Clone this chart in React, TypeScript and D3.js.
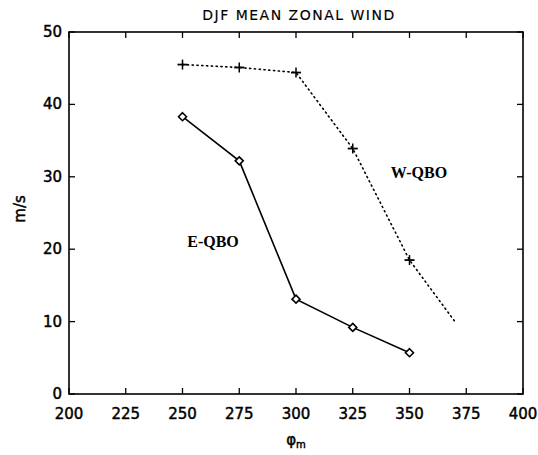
import React from "react";
import * as d3 from "d3";

const xTicks = [200, 225, 250, 275, 300, 325, 350, 375, 400];
const yTicks = [0, 10, 20, 30, 40, 50];

const eqboX = [250, 275, 300, 325, 350];
const eqboY = [38.3, 32.2, 13.1, 9.2, 5.7];

const wqboX = [250, 275, 300, 325, 350, 370];
const wqboY = [45.5, 45.1, 44.4, 33.9, 18.5, 10];
const wqboMarked = [true, true, true, true, true, false];

const W = 538, H = 455;
const L = 69, R = 523, T = 32, B = 394;

export default function App() {
  const x = d3.scaleLinear().domain([200, 400]).range([L, R]);
  const y = d3.scaleLinear().domain([0, 50]).range([B, T]);
  const line = d3.line<[number, number]>().x(d => x(d[0])).y(d => y(d[1]));
  const ePts: [number, number][] = eqboX.map((v, i) => [v, eqboY[i]]);
  const wPts: [number, number][] = wqboX.map((v, i) => [v, wqboY[i]]);
  const tl = 6;
  const font = "'DejaVu Sans', sans-serif";
  const heavy = { stroke: "#000", strokeWidth: 0.45 } as const;
  return (
    <svg width={W} height={H} style={{ position: "absolute", left: 0, top: 0, background: "#fff" }}>
      <text x={299} y={20} textAnchor="middle" fontFamily={font} fontSize={14} letterSpacing={1.5} fill="#000" stroke="#000" strokeWidth={0.15}>DJF MEAN ZONAL WIND</text>
      <rect x={L} y={T} width={R - L} height={B - T} fill="none" stroke="#000" strokeWidth={1.6} />
      {xTicks.map(t => (
        <g key={"x" + t}>
          <line x1={x(t)} x2={x(t)} y1={B} y2={B - tl} stroke="#000" strokeWidth={1.3} />
          <line x1={x(t)} x2={x(t)} y1={T} y2={T + tl} stroke="#000" strokeWidth={1.3} />
          <text x={x(t)} y={419} textAnchor="middle" fontFamily={font} fontSize={15} fill="#000" {...heavy}>{t}</text>
        </g>
      ))}
      {yTicks.map(t => (
        <g key={"y" + t}>
          <line x1={L} x2={L + tl} y1={y(t)} y2={y(t)} stroke="#000" strokeWidth={1.3} />
          <line x1={R} x2={R - tl} y1={y(t)} y2={y(t)} stroke="#000" strokeWidth={1.3} />
          <text x={62} y={y(t) + 5} textAnchor="end" fontFamily={font} fontSize={15} fill="#000" {...heavy}>{t}</text>
        </g>
      ))}
      <text transform={`translate(25,${(T + B) / 2 - 4}) rotate(-90)`} textAnchor="middle" fontFamily={font} fontSize={15} fill="#000" {...heavy}>m/s</text>
      <text x={296} y={445} textAnchor="middle" fontFamily={font} fontSize={15} fill="#000" {...heavy}>φ<tspan fontSize={10} dy={3}>m</tspan></text>

      <path d={line(ePts) || ""} fill="none" stroke="#000" strokeWidth={1.6} />
      {ePts.map((p, i) => (
        <path key={"e" + i} d={`M${x(p[0])},${y(p[1]) - 4}L${x(p[0]) + 4},${y(p[1])}L${x(p[0])},${y(p[1]) + 4}L${x(p[0]) - 4},${y(p[1])}Z`} fill="#fff" stroke="#000" strokeWidth={1.6} />
      ))}
      <path d={line(wPts) || ""} fill="none" stroke="#000" strokeWidth={1.6} strokeDasharray="1.2 3.6" strokeLinecap="round" />
      {wPts.map((p, i) => wqboMarked[i] ? (
        <g key={"w" + i}>
          <line x1={x(p[0]) - 5} x2={x(p[0]) + 5} y1={y(p[1])} y2={y(p[1])} stroke="#000" strokeWidth={1.8} />
          <line x1={x(p[0])} x2={x(p[0])} y1={y(p[1]) - 5} y2={y(p[1]) + 5} stroke="#000" strokeWidth={1.5} />
        </g>
      ) : null)}
      <text x={213} y={247} textAnchor="middle" fontFamily="'Liberation Serif', serif" fontWeight="bold" fontSize={16} fill="#000">E-QBO</text>
      <text x={419} y={178} textAnchor="middle" fontFamily="'Liberation Serif', serif" fontWeight="bold" fontSize={16} fill="#000">W-QBO</text>
    </svg>
  );
}
